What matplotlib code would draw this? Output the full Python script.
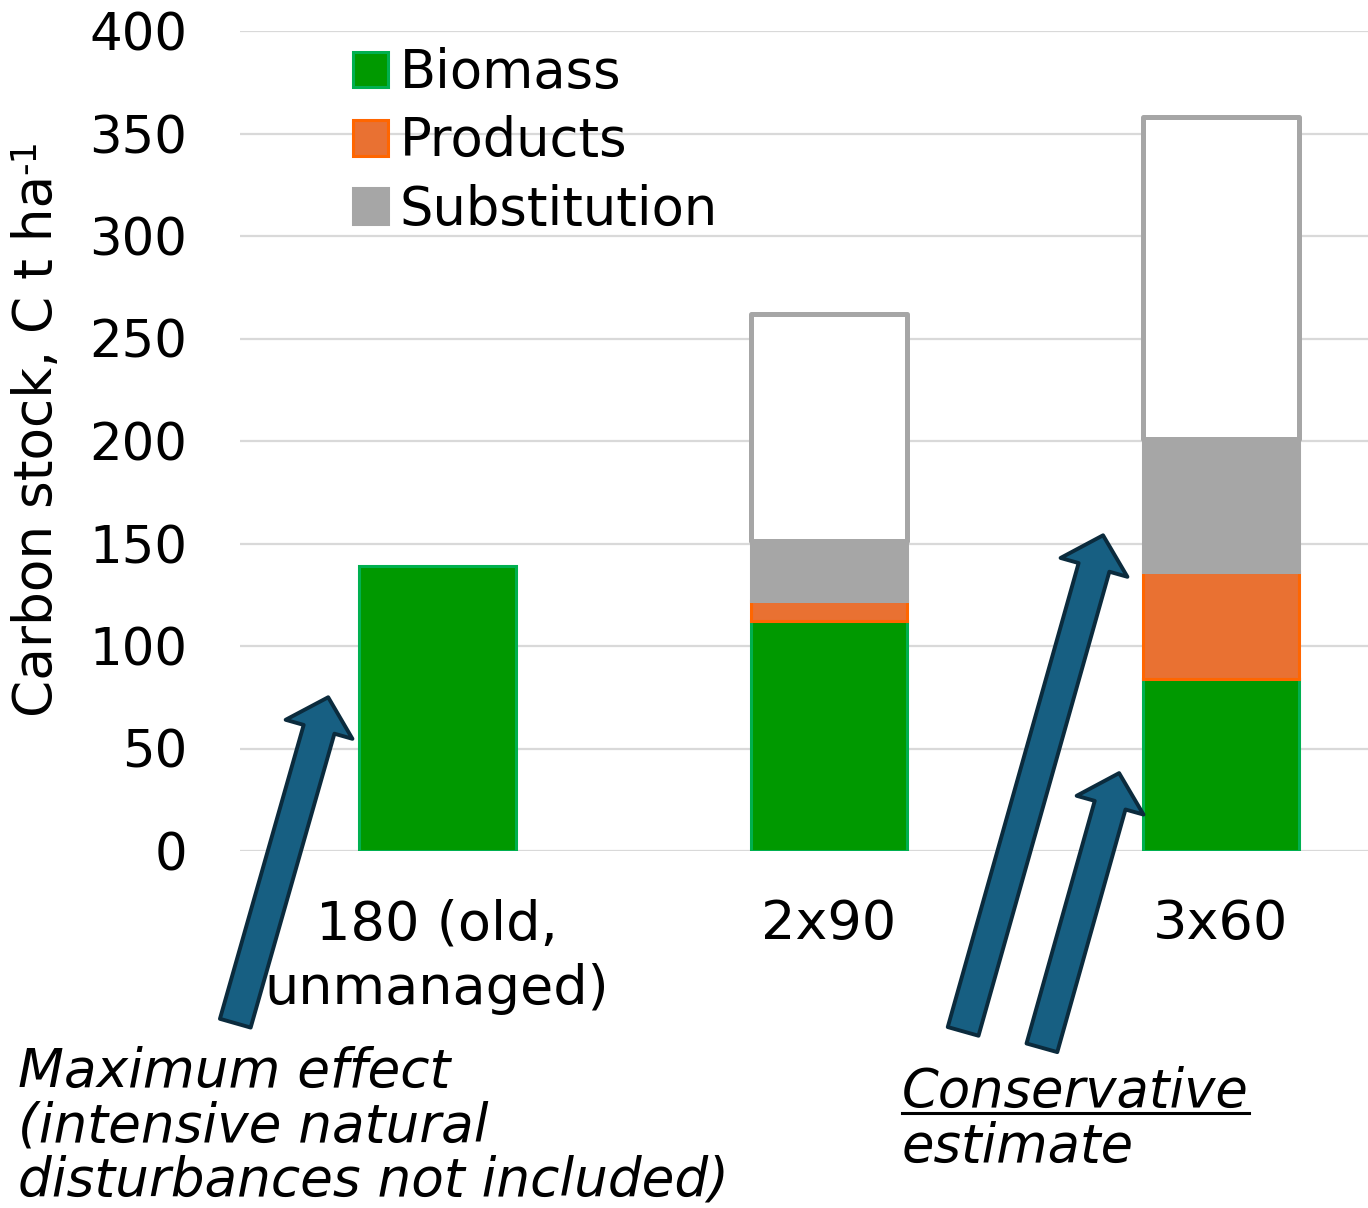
import numpy as np
import matplotlib
matplotlib.use('Agg')
import matplotlib.pyplot as plt
from matplotlib.lines import Line2D
from matplotlib.patches import Patch

plt.rcParams['font.family'] = ['DejaVu Sans']

# Data (C t/ha)
categories = ['180 (old,\nunmanaged)', '2x90', '3x60']
biomass = [139, 112, 84]
products = [0, 10, 52]
substitution = [0, 29, 65]
upper_range = [0, 111, 157]   # open (outlined) part on top of substitution
series_names = ['Biomass', 'Products', 'Substitution']

# Colours
green_face, green_edge = '#009900', '#00b050'
orange_face, orange_edge = '#e97132', '#ff6600'
grey = '#a6a6a6'
arrow_face, arrow_edge = '#175f82', '#0b2b3d'

W, H = 1368, 1208
fig = plt.figure(figsize=(W / 100, H / 100), dpi=100)
ax = fig.add_axes([240 / W, 1 - 851 / H, 1 - 240 / W, 820 / H])

x = np.arange(len(categories))
width = 0.40
biomass = np.array(biomass)
products = np.array(products)
substitution = np.array(substitution)
upper_range = np.array(upper_range)

ax.bar(x, biomass, width, color=green_face, edgecolor=green_edge,
       linewidth=2.2, zorder=2)
b2 = ax.bar(x, products, width, bottom=biomass, color=orange_face,
            edgecolor=orange_edge, linewidth=2.2, zorder=2)
b3 = ax.bar(x, substitution, width, bottom=biomass + products, color=grey,
            edgecolor=grey, linewidth=2.2, zorder=2)
# hide empty segments of the first bar
for cont, vals in ((b2, products), (b3, substitution)):
    for patch, v in zip(cont, vals):
        if v == 0:
            patch.set_visible(False)

top_base = biomass + products + substitution
for xi, base, h in zip(x, top_base, upper_range):
    if h > 0:
        ax.bar(xi, h, width, bottom=base, facecolor='white', edgecolor=grey,
               linewidth=3.6, zorder=1.9, joinstyle='round')

ax.set_ylim(0, 400)
ax.set_xlim(-0.503, 2.375)
ax.set_yticks(np.arange(0, 401, 50))
ax.set_xticks(x)
ax.set_xticklabels(categories, linespacing=1.3)
ax.yaxis.grid(True, color='#d9d9d9', linewidth=1.6)
ax.set_axisbelow(True)
for s in ax.spines.values():
    s.set_visible(False)
ax.tick_params(axis='y', length=0, labelsize=37, pad=38)
ax.tick_params(axis='x', length=0, labelsize=39, pad=34)

handles = [Patch(facecolor=green_face, edgecolor=green_edge, linewidth=2.2),
           Patch(facecolor=orange_face, edgecolor=orange_edge, linewidth=2.2),
           Patch(facecolor=grey, edgecolor=grey, linewidth=2.2)]
ax.legend(handles, series_names, loc='upper left',
          bbox_to_anchor=(353 / W, 1 - 47 / H), bbox_transform=fig.transFigure,
          frameon=False, fontsize=38, borderpad=0, borderaxespad=0,
          handlelength=0.66, handleheight=0.66, handletextpad=0.22,
          labelspacing=0.31)

# Arrows (tail -> tip, in data coordinates)
arrows = [((-0.515, -84), (-0.278, 75)),
          ((1.342, -88), (1.699, 154)),
          ((1.543, -96), (1.740, 38))]
for tail, tip in arrows:
    ax.annotate('', xy=tip, xytext=tail, annotation_clip=False,
                arrowprops=dict(arrowstyle='simple,head_length=2.4,head_width=5.0,tail_width=2.3',
                                mutation_scale=10, fc=arrow_face, ec=arrow_edge,
                                lw=2.8, shrinkA=0, shrinkB=0), zorder=5)

fig.text(18 / W, 1 - 1046 / H,
         'Maximum effect\n(intensive natural\ndisturbances not included)',
         ha='left', va='top', fontsize=38.3, style='italic', linespacing=1.05)
t1 = fig.text(902 / W, 1 - 1066 / H, 'Conservative', ha='left', va='top',
              fontsize=38, style='italic')
fig.text(902 / W, 1 - 1121 / H, 'estimate', ha='left', va='top',
         fontsize=38, style='italic')

# y label with a plain hyphen in the superscript
ylab = fig.text(37 / W, 1 - 717 / H, 'Carbon stock, C t ha', rotation=90,
                ha='center', va='bottom', fontsize=38.3)

fig.canvas.draw()
yb = ylab.get_window_extent()
fig.text(yb.x0 / W - 0.002, (yb.y1 + 1) / H, '-1', rotation=90,
         ha='left', va='bottom', fontsize=25)

# underline "Conservative"
bb = t1.get_window_extent()
uy = 1 - 1113 / H
fig.add_artist(Line2D([bb.x0 / W, bb.x1 / W], [uy, uy], color='black',
                      linewidth=2.2, transform=fig.transFigure))

fig.savefig('out.png', dpi=100)
